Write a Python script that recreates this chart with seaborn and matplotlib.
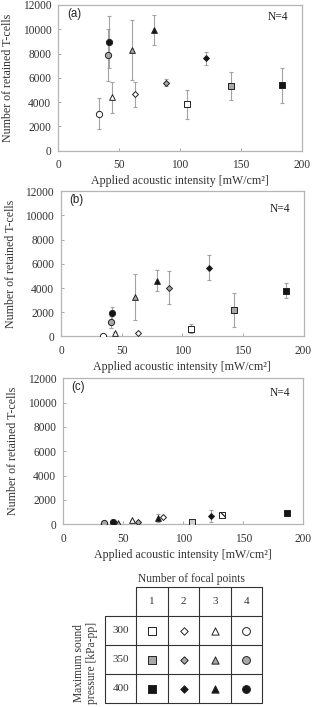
import numpy as np
import pandas as pd
import matplotlib
matplotlib.use("Agg")
import matplotlib.pyplot as plt
import seaborn as sns

# ---- conditions (order: focal points x max pressure) ----
focal = [1, 1, 1, 2, 2, 2, 3, 3, 3, 4, 4, 4]
pressure = [300, 350, 400] * 4

# ---- panel (a) ----
a_x = [105.7, 141.6, 183.9, 62.9, 88.3, 121.1, 44.3, 60.1, 78.2, 33.6, 40.5, 41.6]
a_y = [3810, 5320, 5370, 4660, 5590, 7590, 4390, 8280, 9920, 3040, 7870, 8930]
a_err = [1180, 1150, 1430, 1030, 280, 560, 1280, 2500, 1250, 1290, 2120, 2140]

# ---- panel (b) ----
b_x = [106.9, 142.7, 185.3, 63.2, 88.8, 121.8, 44.5, 60.7, 78.9, 34.6, 40.9, 42.0]
b_y = [650, 2190, 3780, 310, 4030, 5690, 260, 3290, 4590, 40, 1220, 1920]
b_err = [390, 1430, 620, 100, 1370, 1060, 80, 1900, 870, 60, 500, 540]

# ---- panel (c) ----
c_x = [132.5, 107.5, 186.7, 62.5, 83.0, 123.0, 57.5, 45.5, 78.5, 34.0, 34.2, 41.8]
c_y = [760, 220, 950, 150, 560, 680, 330, 100, 500, 40, 110, 160]
c_err = [0, 100, 250, 0, 80, 520, 0, 0, 320, 0, 0, 0]
c_fill = [300, "light", 400, 350, 300, 400, 300, 350, 400, 300, 350, 400]
c_hatch = ["\\\\\\\\", "", "", "", "", "", "", "", "", "", "", ""]

# ---- axes text ----
x_ticks = [0, 50, 100, 150, 200]
y_ticks = [0, 2000, 4000, 6000, 8000, 10000, 12000]
panel_labels = ["(a)", "(b)", "(c)"]
xlabel = "Applied acoustic intensity [mW/cm\u00b2]"
ylabel = "Number of retained T-cells"

# ---- legend table ----
table_focal = [1, 2, 3, 4]
table_pressure = [300, 350, 400]

shapes = {1: "s", 2: "D", 3: "^", 4: "o"}
sizes = {1: 19, 2: 9, 3: 17, 4: 20}
fills = {300: "white", 350: "#a8a8a8", 400: "#151515", "light": "#d0d0d0"}

sns.set_style("white")
plt.rcParams["font.family"] = ["Liberation Serif", "DejaVu Serif"]
plt.rcParams["hatch.linewidth"] = 0.9

fig = plt.figure(figsize=(3.15, 7.07), dpi=100)

W, H = 315.0, 707.0
def px_axes(left, top, right, bottom):
    return fig.add_axes([left / W, 1 - bottom / H, (right - left) / W, (bottom - top) / H])

ax_a = px_axes(58.3, 4.9, 302.0, 150.7)
ax_b = px_axes(61.1, 191.3, 303.5, 336.5)
ax_c = px_axes(63.3, 378.3, 303.3, 524.3)

tick_col = "#333333"
spine_col = "#b5b5b5"

def panel(ax, xs, ys, errs, fillkeys, hatches, label, ny):
    df = pd.DataFrame(dict(x=xs, y=ys, err=errs, focal=focal,
                           fill=[str(k) for k in fillkeys], hatch=hatches))
    ax.errorbar(df["x"], df["y"], yerr=df["err"], fmt="none", ecolor="#a3a3a3",
                elinewidth=0.8, capsize=1.7, capthick=0.8, zorder=1)
    for i, row in df.iterrows():
        key = fillkeys[i]
        sub = df.iloc[[i]]
        sns.scatterplot(data=sub, x="x", y="y", marker=shapes[row["focal"]],
                        s=sizes[row["focal"]], color=fills[key],
                        edgecolor="#222222", linewidth=0.7, ax=ax,
                        legend=False, zorder=3)
        if row["hatch"]:
            coll = ax.collections[-1]
            coll.set_hatch(row["hatch"])
    ax.set_xlim(0, 200)
    ax.set_ylim(0, 12000)
    ax.set_xticks(x_ticks)
    ax.set_yticks(y_ticks)
    ax.set_xticklabels([str(t) for t in x_ticks])
    ax.set_yticklabels([str(t) for t in y_ticks])
    ax.tick_params(axis="both", direction="in", length=2.5, width=0.6,
                   color="#9a9a9a", labelsize=8.3, labelcolor=tick_col)
    ax.tick_params(axis="x", pad=6)
    ax.tick_params(axis="y", pad=5)
    ax.tick_params(bottom=True, left=True)
    for s in ax.spines.values():
        s.set_color(spine_col)
        s.set_linewidth(0.9)
    ax.set_xlabel(xlabel, fontsize=8.6, color=tick_col, labelpad=3)
    ax.set_ylabel(ylabel, fontsize=8.6, color=tick_col, labelpad=6)
    ax.text(0.035, 0.94, label, transform=ax.transAxes, fontsize=8.3,
            family=["Liberation Sans", "DejaVu Sans"], color="#222222", va="center", ha="left")
    ax.text(0.945, ny, "N=4", transform=ax.transAxes, fontsize=8.3,
            color="#222222", va="center", ha="right")

panel(ax_a, a_x, a_y, a_err, pressure, [""] * 12, panel_labels[0], 0.92)
panel(ax_b, b_x, b_y, b_err, pressure, [""] * 12, panel_labels[1], 0.875)
panel(ax_c, c_x, c_y, c_err, c_fill, c_hatch, panel_labels[2], 0.9)

# ---- legend table (cell grid: col 0 = row-label column, row 0 = header) ----
ax_t = px_axes(105.0, 587.0, 262.0, 703.0)
ax_t.set_xlim(0, 5)
ax_t.set_ylim(4, 0)
ax_t.axis("off")
lc = "#333333"
lw = 0.8
ax_t.plot([0, 0], [1, 4], color=lc, lw=lw, clip_on=False)
for c in range(1, 6):
    ax_t.plot([c, c], [0, 4], color=lc, lw=lw, clip_on=False)
ax_t.plot([1, 5], [0, 0], color=lc, lw=lw, clip_on=False)
for r in range(1, 5):
    ax_t.plot([0, 5], [r, r], color=lc, lw=lw, clip_on=False)

for j, f in enumerate(table_focal):
    ax_t.text(j + 1.5, 0.5, str(f), ha="center", va="center", fontsize=8, color=lc)
for i, p in enumerate(table_pressure):
    ax_t.text(0.5, i + 1.5, str(p), ha="center", va="center", fontsize=8, color=lc)

tab = pd.DataFrame([(j + 1.5, i + 1.5, f, p) for i, p in enumerate(table_pressure)
                    for j, f in enumerate(table_focal)], columns=["cx", "cy", "focal", "pressure"])
for _, row in tab.iterrows():
    sns.scatterplot(x=[row["cx"]], y=[row["cy"]], marker=shapes[row["focal"]],
                    s=sizes[row["focal"]] * 1.6, color=fills[row["pressure"]],
                    edgecolor="#222222", linewidth=0.7, ax=ax_t, legend=False,
                    clip_on=False, zorder=3)

ax_t.text(2.75, -0.27, "Number of focal points", ha="center", va="center",
          fontsize=8.3, color=lc)
ax_t.text(-0.62, 2.62, "Maximum sound\npressure [kPa-pp]", rotation=90,
          ha="center", va="center", fontsize=8.3, color=lc, linespacing=1.1)

fig.savefig("out.png", dpi=100)
